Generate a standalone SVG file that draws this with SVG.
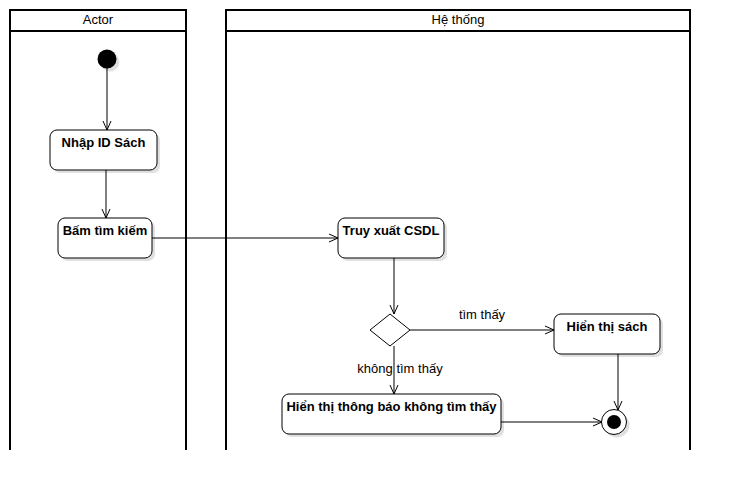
<svg xmlns="http://www.w3.org/2000/svg" width="730" height="490" viewBox="0 0 730 490">
<style>
.lane{fill:none;stroke:#000;stroke-width:2}
.node{fill:#fff;stroke:#000;stroke-width:1}
.sh{fill:#000;opacity:0.12}
.t{font-family:"Liberation Sans",Arial,sans-serif;font-size:13px;text-anchor:middle;fill:#000}
.b{font-weight:bold}
.e{fill:none;stroke:#000;stroke-width:1;marker-end:url(#a)}
</style>
<defs>
<marker id="a" markerWidth="12" markerHeight="12" refX="10" refY="5" orient="auto" markerUnits="userSpaceOnUse">
<path d="M1,1 L10,5 L1,9" fill="none" stroke="#000" stroke-width="1"/>
</marker>
</defs>
<rect width="730" height="490" fill="#fff"/>
<g id="lane-actor">
<path class="lane" d="M10,450 V10 H186 V450 M10,31 H186"/>
<text class="t" x="98" y="24">Actor</text>
</g>
<g id="lane-system">
<path class="lane" d="M226,450 V10 H690 V450 M226,31 H690"/>
<text class="t" x="458" y="24">Hệ thống</text>
</g>
<g id="edges">
<line class="e" x1="107" y1="68" x2="107" y2="130"/>
<line class="e" x1="106" y1="170" x2="106" y2="218"/>
<line class="e" x1="152" y1="238" x2="338" y2="238"/>
<line class="e" x1="394" y1="258" x2="394" y2="314"/>
<line class="e" x1="410" y1="330" x2="554" y2="330"/>
<text class="t" x="482" y="319">tìm thấy</text>
<line class="e" x1="394" y1="346" x2="394" y2="394"/>
<text class="t" x="400" y="373">không tìm thấy</text>
<line class="e" x1="618" y1="354" x2="618" y2="410"/>
<line class="e" x1="501" y1="422" x2="602" y2="422"/>
</g>
<g id="start">
<circle cx="110" cy="62" r="9.5" class="sh"/>
<circle cx="107" cy="59" r="9.5" fill="#000"/>
</g>
<g id="n-nhap">
<rect class="sh" x="53" y="133" width="107" height="40" rx="7"/>
<rect class="node" x="50" y="130" width="107" height="40" rx="7"/>
<text class="t b" x="103.5" y="147">Nhập ID Sách</text>
</g>
<g id="n-bam">
<rect class="sh" x="61" y="221" width="94" height="40" rx="7"/>
<rect class="node" x="58" y="218" width="94" height="40" rx="7"/>
<text class="t b" x="105" y="235">Bấm tìm kiếm</text>
</g>
<g id="n-truy">
<rect class="sh" x="341" y="221" width="106" height="40" rx="7"/>
<rect class="node" x="338" y="218" width="106" height="40" rx="7"/>
<text class="t b" x="391" y="235">Truy xuất CSDL</text>
</g>
<g id="decision">
<path d="M370,330 L390,314 L410,330 L390,346 Z" fill="#fff" stroke="#000" stroke-width="1"/>
</g>
<g id="n-sach">
<rect class="sh" x="557" y="317" width="106" height="40" rx="7"/>
<rect class="node" x="554" y="314" width="106" height="40" rx="7"/>
<text class="t b" x="607" y="331">Hiển thị sách</text>
</g>
<g id="n-thongbao">
<rect class="sh" x="285" y="397" width="219" height="40" rx="7"/>
<rect class="node" x="282" y="394" width="219" height="40" rx="7"/>
<text class="t b" x="391.5" y="411">Hiển thị thông báo không tìm thấy</text>
</g>
<g id="end">
<circle cx="617" cy="425" r="12.5" class="sh"/>
<circle cx="614" cy="422" r="12.5" fill="#fff" stroke="#000" stroke-width="1"/>
<circle cx="614" cy="422" r="7" fill="#000"/>
</g>
</svg>
